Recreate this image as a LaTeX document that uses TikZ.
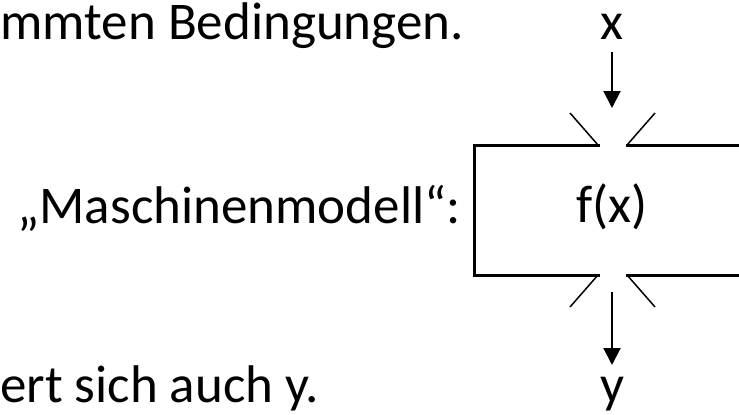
\documentclass[tikz,border=0pt]{standalone}
\usepackage{fontspec}
\setmainfont{Carlito}
\usetikzlibrary{arrows.meta}
\begin{document}
\begin{tikzpicture}[x=1pt,y=-1pt,
  txt/.style={inner sep=0pt, font=\fontsize{53}{60}\selectfont},
  frame/.style={line width=3pt, line cap=rect},
  lip/.style={line width=1.5pt},
  flow/.style={line width=2pt, -{Triangle[length=17pt,width=17pt]}}]
  \useasboundingbox (0,0) rectangle (739,415);

  % running text around the machine model
  \node[txt, anchor=base east] (top) at (464,39) {mmten Bedingungen.};
  \node[txt, anchor=base east] (model) at (461,223) {„Maschinenmodell“:};
  \node[txt, anchor=base west] (bottom) at (0,402) {ert sich auch y.};

  % input and output labels
  \node[txt, anchor=base] (xin) at (612,39) {x};
  \node[txt, anchor=base] (yout) at (612,402) {y};
  \node[txt, anchor=base] (fx) at (612,222) {f(x)};

  % the machine: open box with funnel-shaped openings top and bottom
  \coordinate (tl) at (474,145);
  \coordinate (bl) at (474,275);
  \coordinate (tgl) at (598,145);
  \coordinate (tgr) at (627,145);
  \coordinate (bgl) at (598,275);
  \coordinate (bgr) at (627,275);
  \draw[frame] (tgl) -- (tl) -- (bl) -- (bgl);
  \draw[frame] (tgr) -- (745,145);
  \draw[frame] (bgr) -- (745,275);
  \draw[lip] (tgl) -- (570,113);
  \draw[lip] (tgr) -- (655,113);
  \draw[lip] (bgl) -- (570,307);
  \draw[lip] (bgr) -- (655,307);

  % flow in and out
  \coordinate (inStart) at (612,52);
  \coordinate (inTip) at (612,108);
  \coordinate (outStart) at (612,292);
  \coordinate (outTip) at (612,365);
  \draw[flow] (inStart) -- (inTip);
  \draw[flow] (outStart) -- (outTip);
\end{tikzpicture}
\end{document}
